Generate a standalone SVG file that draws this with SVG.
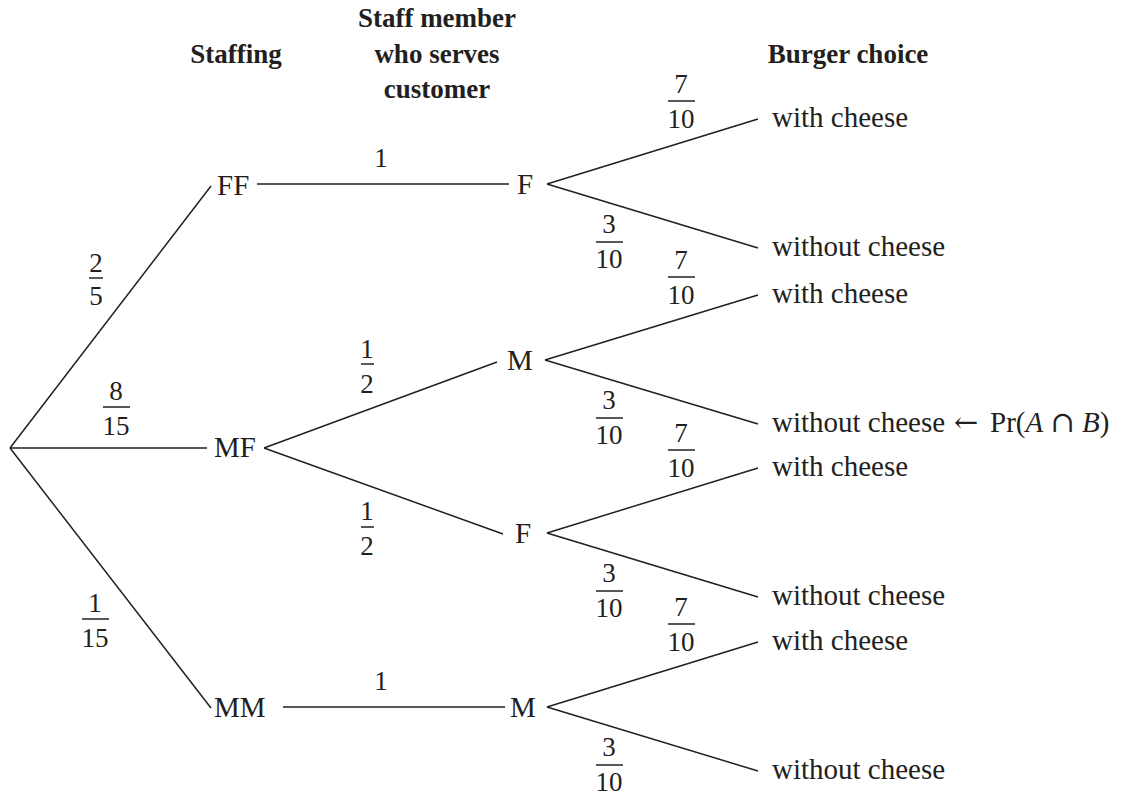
<svg xmlns="http://www.w3.org/2000/svg" width="1123" height="795" viewBox="0 0 1123 795">
<style>
text{font-family:"Liberation Serif","Times New Roman",serif;fill:#231f20;}
.lbl{font-size:29px;}
.hd{font-size:27px;font-weight:bold;text-anchor:middle;}
.fr{font-size:27px;text-anchor:middle;}
line{stroke:#231f20;stroke-width:1.5;}
.it{font-style:italic;}
.sym{font-family:"DejaVu Serif","DejaVu Sans",serif;}
</style>
<rect width="1123" height="795" fill="#ffffff"/>
<g id="headers">
<text class="hd" x="236" y="63">Staffing</text>
<text class="hd" x="437" y="27">Staff member</text>
<text class="hd" x="437" y="63">who serves</text>
<text class="hd" x="437" y="98">customer</text>
<text class="hd" x="848" y="63">Burger choice</text>
</g>
<g id="connectors">
<line x1="10" y1="448" x2="211" y2="186"/>
<line x1="10" y1="448" x2="207" y2="448"/>
<line x1="10" y1="448" x2="211" y2="708"/>
<line x1="257" y1="184" x2="509" y2="184"/>
<line x1="264" y1="448" x2="497" y2="362"/>
<line x1="264" y1="448" x2="503" y2="534"/>
<line x1="283" y1="707" x2="505" y2="707"/>
<line x1="547" y1="184" x2="758" y2="119"/>
<line x1="547" y1="184" x2="758" y2="248"/>
<line x1="545" y1="360" x2="758" y2="295"/>
<line x1="545" y1="360" x2="758" y2="424"/>
<line x1="547" y1="533" x2="758" y2="468"/>
<line x1="547" y1="533" x2="758" y2="597"/>
<line x1="547" y1="707" x2="758" y2="642"/>
<line x1="547" y1="707" x2="758" y2="771"/>
</g>
<g id="edge-labels">
<text class="fr" x="96" y="272">2</text><line x1="89" y1="278" x2="103" y2="278"/><text class="fr" x="96" y="305">5</text>
<text class="fr" x="116" y="400">8</text><line x1="103" y1="407" x2="130" y2="407"/><text class="fr" x="116" y="435">15</text>
<text class="fr" x="95" y="612">1</text><line x1="82" y1="619" x2="109" y2="619"/><text class="fr" x="95" y="647">15</text>
<text class="fr" x="381" y="167">1</text>
<text class="fr" x="381" y="690">1</text>
<text class="fr" x="367" y="358">1</text><line x1="361" y1="364" x2="374" y2="364"/><text class="fr" x="367" y="393">2</text>
<text class="fr" x="367" y="520">1</text><line x1="361" y1="527" x2="374" y2="527"/><text class="fr" x="367" y="555">2</text>
<text class="fr" x="681" y="93">7</text><line x1="668" y1="101" x2="695" y2="101"/><text class="fr" x="681" y="128">10</text>
<text class="fr" x="609" y="233">3</text><line x1="596" y1="242" x2="623" y2="242"/><text class="fr" x="609" y="268">10</text>
<text class="fr" x="681" y="269">7</text><line x1="668" y1="277" x2="695" y2="277"/><text class="fr" x="681" y="304">10</text>
<text class="fr" x="609" y="409">3</text><line x1="596" y1="418" x2="623" y2="418"/><text class="fr" x="609" y="444">10</text>
<text class="fr" x="681" y="442">7</text><line x1="668" y1="450" x2="695" y2="450"/><text class="fr" x="681" y="477">10</text>
<text class="fr" x="609" y="582">3</text><line x1="596" y1="591" x2="623" y2="591"/><text class="fr" x="609" y="617">10</text>
<text class="fr" x="681" y="616">7</text><line x1="668" y1="624" x2="695" y2="624"/><text class="fr" x="681" y="651">10</text>
<text class="fr" x="609" y="756">3</text><line x1="596" y1="765" x2="623" y2="765"/><text class="fr" x="609" y="791">10</text>
</g>
<g id="node-FF"><text class="lbl" x="217" y="195">FF</text></g>
<g id="node-MF"><text class="lbl" x="214" y="457">MF</text></g>
<g id="node-MM"><text class="lbl" x="214" y="717">MM</text></g>
<g id="node-F1"><text class="lbl" x="517" y="194">F</text></g>
<g id="node-M1"><text class="lbl" x="507" y="370">M</text></g>
<g id="node-F2"><text class="lbl" x="515" y="543">F</text></g>
<g id="node-M2"><text class="lbl" x="510" y="717">M</text></g>
<g id="outcome-1"><text class="lbl" x="772" y="127">with cheese</text></g>
<g id="outcome-2"><text class="lbl" x="772" y="256">without cheese</text></g>
<g id="outcome-3"><text class="lbl" x="772" y="303">with cheese</text></g>
<g id="outcome-4"><text class="lbl" x="772" y="432">without cheese</text><text class="lbl sym" x="954" y="432" font-size="31">←</text><text class="lbl" x="990" y="432">Pr(<tspan class="it">A</tspan> <tspan class="sym">∩</tspan> <tspan class="it">B</tspan>)</text></g>
<g id="outcome-5"><text class="lbl" x="772" y="476">with cheese</text></g>
<g id="outcome-6"><text class="lbl" x="772" y="605">without cheese</text></g>
<g id="outcome-7"><text class="lbl" x="772" y="650">with cheese</text></g>
<g id="outcome-8"><text class="lbl" x="772" y="779">without cheese</text></g>
</svg>
